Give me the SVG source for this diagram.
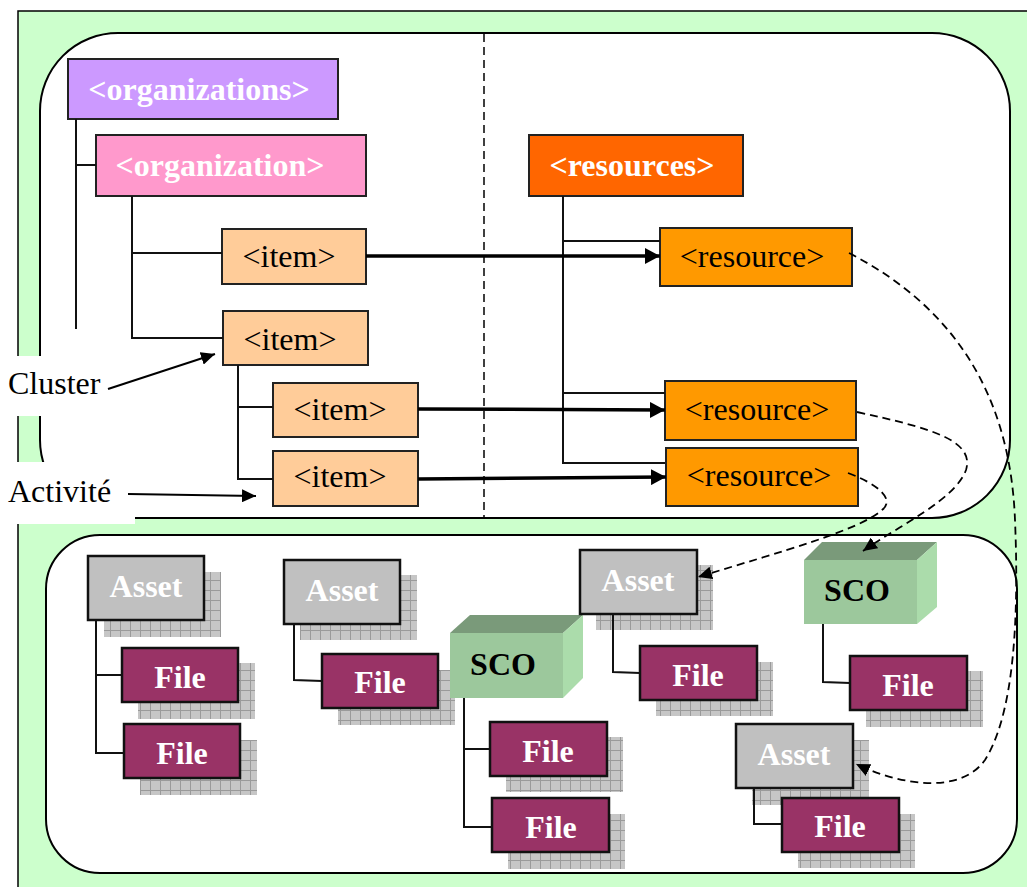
<svg xmlns="http://www.w3.org/2000/svg" width="1027" height="887" viewBox="0 0 1027 887">
<style>
text{font-family:"Liberation Serif","Times New Roman",serif;font-size:32px}
.b{font-weight:bold}
.w{fill:#fff}
.k{fill:#000}
.m{text-anchor:middle}
.box{stroke:#222;stroke-width:2}
.fbox{stroke:#111;stroke-width:2.5}
.tree{fill:none;stroke:#111;stroke-width:2}
.thick{fill:none;stroke:#000;stroke-width:3.5}
.dash{fill:none;stroke:#000;stroke-width:1.8;stroke-dasharray:8 5}
.sh{fill:url(#grid)}
</style>
<defs>
<pattern id="grid" width="10" height="10" patternUnits="userSpaceOnUse">
<rect width="10" height="10" fill="#c6c6c6"/>
<path d="M0 0.5H10M0.5 0V10" stroke="#9a9a9a" stroke-width="1"/>
</pattern>
<marker id="big" markerUnits="userSpaceOnUse" markerWidth="16" markerHeight="16" refX="15" refY="8" orient="auto"><path d="M0 0L15 8L0 16z" fill="#000"/></marker>
<marker id="sm" markerUnits="userSpaceOnUse" markerWidth="15" markerHeight="13" refX="14" refY="6.5" orient="auto"><path d="M0 0L14 6.5L0 13z" fill="#000"/></marker>
</defs>

<g id="background">
<rect x="18" y="11" width="1030" height="900" fill="#CCFFCC" stroke="#000" stroke-width="1.5"/>
<rect x="40" y="33" width="970" height="485" rx="78" ry="78" fill="#fff" stroke="#000" stroke-width="2"/>
<rect x="46" y="535" width="971" height="338" rx="54" ry="54" fill="#fff" stroke="#000" stroke-width="2"/>
<line x1="484" y1="34" x2="484" y2="517" stroke="#000" stroke-width="1.5" stroke-dasharray="8 5"/>
<rect x="0" y="356" width="105" height="60" fill="#fff"/>
<rect x="0" y="462" width="135" height="62" fill="#fff"/>
</g>

<g id="labels">
<text x="8" y="394">Cluster</text>
<text x="8" y="502">Activité</text>
</g>

<g id="organizations"><rect class="box" x="68" y="59" width="270" height="60" fill="#CC99FF"/><text class="b w m" x="199" y="100">&lt;organizations&gt;</text></g>
<g id="organization"><rect class="box" x="96" y="135" width="270" height="61" fill="#FF99CC"/><text class="b w m" x="220" y="176">&lt;organization&gt;</text></g>
<g id="item1"><rect class="box" x="222" y="229" width="144" height="55" fill="#FFCC99"/><text class="m" x="289" y="267">&lt;item&gt;</text></g>
<g id="item2"><rect class="box" x="223" y="311" width="145" height="54" fill="#FFCC99"/><text class="m" x="290" y="350">&lt;item&gt;</text></g>
<g id="item3"><rect class="box" x="273" y="383" width="145" height="54" fill="#FFCC99"/><text class="m" x="340" y="420">&lt;item&gt;</text></g>
<g id="item4"><rect class="box" x="273" y="451" width="145" height="55" fill="#FFCC99"/><text class="m" x="340" y="487">&lt;item&gt;</text></g>
<g id="resources"><rect class="box" x="529" y="135" width="214" height="61" fill="#FF6600"/><text class="b w m" x="632" y="176">&lt;resources&gt;</text></g>
<g id="resource1"><rect class="box" x="660" y="228" width="192" height="58" fill="#FF9900"/><text class="m" x="752" y="267">&lt;resource&gt;</text></g>
<g id="resource2"><rect class="box" x="665" y="381" width="191" height="59" fill="#FF9900"/><text class="m" x="757" y="420">&lt;resource&gt;</text></g>
<g id="resource3"><rect class="box" x="666" y="448" width="192" height="58" fill="#FF9900"/><text class="m" x="759" y="486">&lt;resource&gt;</text></g>

<g id="asset1"><rect class="sh" x="104" y="572" width="117" height="65"/><rect class="fbox" x="88" y="556" width="116" height="64" fill="#C0C0C0"/><text class="b w m" x="146" y="597">Asset</text></g>
<g id="file1"><rect class="sh" x="138" y="663" width="117" height="56"/><rect class="fbox" x="122" y="648" width="116" height="54" fill="#993366"/><text class="b w m" x="180" y="688">File</text></g>
<g id="file2"><rect class="sh" x="140" y="740" width="117" height="55"/><rect class="fbox" x="124" y="724" width="116" height="54" fill="#993366"/><text class="b w m" x="182" y="764">File</text></g>
<g id="asset2"><rect class="sh" x="300" y="575" width="117" height="65"/><rect class="fbox" x="284" y="560" width="116" height="64" fill="#C0C0C0"/><text class="b w m" x="342" y="601">Asset</text></g>
<g id="file3"><rect class="sh" x="338" y="670" width="117" height="55"/><rect class="fbox" x="322" y="654" width="116" height="54" fill="#993366"/><text class="b w m" x="380" y="693">File</text></g>
<g id="sco1"><path d="M450 633L470 615H583L563 633z" fill="#7A9A7A"/><path d="M563 633L583 615V678L563 698z" fill="#ABDCAB"/><rect x="450" y="633" width="113" height="65" fill="#9CC89C"/><text class="b k m" x="503" y="675">SCO</text></g>
<g id="file4"><rect class="sh" x="506" y="737" width="117" height="55"/><rect class="fbox" x="490" y="722" width="117" height="54" fill="#993366"/><text class="b w m" x="548" y="762">File</text></g>
<g id="file5"><rect class="sh" x="508" y="814" width="117" height="55"/><rect class="fbox" x="492" y="798" width="117" height="54" fill="#993366"/><text class="b w m" x="551" y="838">File</text></g>
<g id="asset3"><rect class="sh" x="596" y="565" width="117" height="65"/><rect class="fbox" x="580" y="550" width="117" height="64" fill="#C0C0C0"/><text class="b w m" x="638" y="591">Asset</text></g>
<g id="file6"><rect class="sh" x="656" y="662" width="117" height="54"/><rect class="fbox" x="640" y="646" width="117" height="54" fill="#993366"/><text class="b w m" x="698" y="686">File</text></g>
<g id="sco2"><path d="M804 560L822 542H937L917 560z" fill="#7A9A7A"/><path d="M917 560L937 542V607L917 624z" fill="#ABDCAB"/><rect x="804" y="560" width="113" height="64" fill="#9CC89C"/><text class="b k m" x="857" y="601">SCO</text></g>
<g id="file7"><rect class="sh" x="866" y="671" width="117" height="56"/><rect class="fbox" x="850" y="656" width="117" height="54" fill="#993366"/><text class="b w m" x="908" y="696">File</text></g>
<g id="asset4"><rect class="sh" x="752" y="740" width="117" height="65"/><rect class="fbox" x="736" y="724" width="117" height="64" fill="#C0C0C0"/><text class="b w m" x="794" y="765">Asset</text></g>
<g id="file8"><rect class="sh" x="798" y="814" width="117" height="54"/><rect class="fbox" x="782" y="798" width="117" height="54" fill="#993366"/><text class="b w m" x="840" y="837">File</text></g>

<g id="connectors">
<path class="tree" d="M76 119V329M76 165H96"/>
<path class="tree" d="M132 196V338H223M132 253H222"/>
<path class="tree" d="M238 365V479H273M238 407H273"/>
<path class="tree" d="M563 196V463H665M563 241H660M563 393H665"/>
<line class="thick" x1="366" y1="256" x2="660" y2="256" marker-end="url(#big)"/>
<line class="thick" x1="418" y1="409" x2="665" y2="410" marker-end="url(#big)"/>
<line class="thick" x1="418" y1="479" x2="666" y2="477" marker-end="url(#big)"/>
<line x1="108" y1="389" x2="215" y2="354" stroke="#000" stroke-width="2" marker-end="url(#sm)"/>
<line x1="128" y1="494" x2="256" y2="496" stroke="#000" stroke-width="2" marker-end="url(#sm)"/>
<path class="tree" d="M96 621V753H124M96 675H122"/>
<path class="tree" d="M294 625V680L322 681"/>
<path class="tree" d="M464 698V827H492M464 749H490"/>
<path class="tree" d="M613 615V672L640 673"/>
<path class="tree" d="M823 624V682L850 683"/>
<path class="tree" d="M754 789V824H782"/>
<path class="dash" d="M849 253C950 305 1010 390 1015 520C1020 640 1010 720 985 760C960 795 900 785 856 764" marker-end="url(#sm)"/>
<path class="dash" d="M857 412C930 428 975 440 966 470C955 500 900 525 863 551" marker-end="url(#sm)"/>
<path class="dash" d="M848 473C880 485 895 500 882 510C860 530 780 552 698 577" marker-end="url(#sm)"/>
</g>
</svg>
